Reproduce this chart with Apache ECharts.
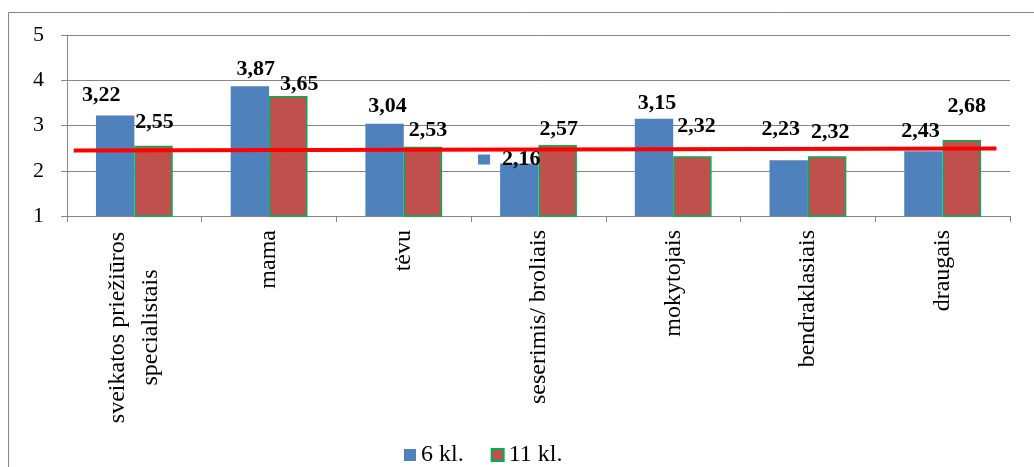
<!DOCTYPE html>
<html>
<head>
<meta charset="utf-8">
<script src="https://cdn.jsdelivr.net/npm/echarts@6/dist/echarts.min.js"></script>
<style>
  html, body { margin: 0; padding: 0; background: #fff; }
  #chart { width: 1034px; height: 467px; }
</style>
</head>
<body>
<div id="chart"></div>
<script>
  // kategorijos
  const categories = ['sveikatos priežiūros\nspecialistais', 'mama', 'tėvu', 'seserimis/ broliais', 'mokytojais', 'bendraklasiais', 'draugais'];
  const seriesNames = ['6 kl.', '11 kl.'];
  // 6 kl.
  const values6 = [3.22, 3.87, 3.04, 2.16, 3.15, 2.23, 2.43];
  // 11 kl.
  const values11 = [2.55, 3.65, 2.53, 2.57, 2.32, 2.32, 2.68];
  // raudona vidurkio linija
  const avgLineX = [0.05, 6.9];
  const avgLineY = [2.45, 2.49];
  const yTicks = [1, 2, 3, 4, 5];

  // etikečių poslinkiai (kaip originale)
  const offsets6 = [[-14, -4], [6, -1], [3, -1], [-10, 12], [3, 1], [-8, -15], [-3, -4]];
  const offsets11 = [[1, -8], [11, 4], [5, 0], [1, 0], [4, -14], [3, -8], [5, -18]];

  const fmt = v => v.toFixed(2).replace('.', ',');
  const serif = '"Liberation Serif", "Times New Roman", serif';

  function buildData(values, offsets, keyIndex) {
    return values.map((v, i) => {
      const item = { value: v, label: { offset: offsets[i] } };
      if (i === keyIndex) {
        item.label.formatter = '{k|}{v|' + fmt(v) + '}';
      }
      return item;
    });
  }

  const labelBase = {
    show: true,
    position: 'top',
    fontFamily: serif,
    fontSize: 22,
    fontWeight: 'bold',
    color: '#000',
    formatter: p => fmt(p.value),
    rich: {
      k: { width: 12, height: 10, backgroundColor: '#4f81bd' },
      v: { fontFamily: serif, fontSize: 22, fontWeight: 'bold', color: '#000', padding: [0, 0, 0, 12] }
    }
  };

  const chart = echarts.init(document.getElementById('chart'));
  const option = {
    animation: false,
    backgroundColor: '#fff',
    graphic: [{
      type: 'rect',
      shape: { x: 8.5, y: 12.5, width: 1040, height: 470 },
      style: { fill: 'none', stroke: '#868686', lineWidth: 1 },
      silent: true
    }],
    legend: {
      data: seriesNames,
      left: 399,
      top: 437,
      itemWidth: 12,
      itemHeight: 12,
      itemGap: 27,
      itemTextGap: 8,
      icon: 'rect',
      textStyle: { fontFamily: serif, fontSize: 24, color: '#000', lineHeight: 26 }
    },
    grid: { left: 67, right: 24, top: 35, bottom: 251 },
    xAxis: [
      {
        type: 'category',
        data: categories,
        axisLine: { lineStyle: { color: '#868686', width: 1 } },
        axisTick: { show: true, length: 6, lineStyle: { color: '#868686' } },
        axisLabel: {
          rotate: 90,
          margin: 14,
          interval: 0,
          fontFamily: serif,
          fontSize: 24,
          color: '#000',
          formatter: v => v.indexOf('\n') >= 0
            ? v.split('\n').map(s => '{w|' + s + '}').join('\n')
            : '{n|' + v + '}',
          rich: {
            w: { width: 195, align: 'center', fontFamily: serif, fontSize: 24, color: '#000', lineHeight: 33 },
            n: { fontFamily: serif, fontSize: 24, color: '#000' }
          }
        }
      },
      {
        type: 'value',
        min: 0,
        max: 7,
        show: false
      }
    ],
    yAxis: {
      type: 'value',
      min: yTicks[0],
      max: yTicks[yTicks.length - 1],
      interval: 1,
      axisLine: { show: true, lineStyle: { color: '#868686', width: 1 } },
      axisTick: { show: true, length: 6, lineStyle: { color: '#868686' } },
      splitLine: { lineStyle: { color: '#868686', width: 1 } },
      axisLabel: { fontFamily: serif, fontSize: 22, color: '#000', margin: 23 }
    },
    series: [
      {
        name: seriesNames[0],
        type: 'bar',
        xAxisIndex: 0,
        data: buildData(values6, offsets6, 3),
        barGap: '0%',
        barCategoryGap: '43%',
        itemStyle: { color: '#4f81bd' },
        label: labelBase,
        z: 2
      },
      {
        name: seriesNames[1],
        type: 'bar',
        xAxisIndex: 0,
        data: buildData(values11, offsets11, -1),
        barGap: '0%',
        barCategoryGap: '43%',
        itemStyle: { color: '#c0504d', borderColor: '#00b050', borderWidth: 1.5 },
        label: labelBase,
        z: 2
      },
      {
        name: 'vidurkis',
        type: 'line',
        xAxisIndex: 1,
        data: avgLineX.map((x, i) => [x, avgLineY[i]]),
        symbol: 'none',
        lineStyle: { color: '#ff0000', width: 4 },
        z: 3
      }
    ]
  };
  chart.setOption(option);
</script>
</body>
</html>
